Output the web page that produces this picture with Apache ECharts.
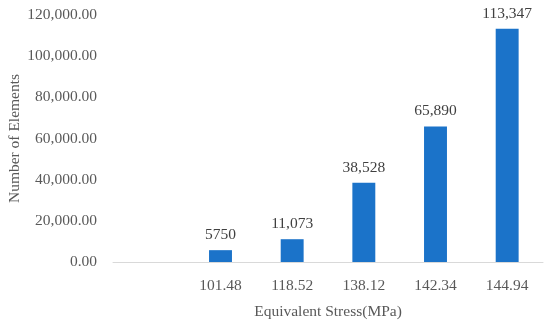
<!DOCTYPE html>
<html><head><meta charset="utf-8">
<script src="https://cdn.jsdelivr.net/npm/echarts@6/dist/echarts.min.js"></script>
<style>html,body{margin:0;padding:0;background:#fff}#c{width:550px;height:327px}</style>
</head><body><div id="c"></div>
<script>
var categories = ['', '101.48', '118.52', '138.12', '142.34', '144.94'];
var values = [null, 5750, 11073, 38528, 65890, 113347];
var valueLabels = ['', '5750', '11,073', '38,528', '65,890', '113,347'];
var yTicks = {min: 0, max: 120000, interval: 20000};
var xTitle = 'Equivalent Stress(MPa)';
var yTitle = 'Number of Elements';

var font = 'Liberation Serif';
var fs = 15.5;
var chart = echarts.init(document.getElementById('c'));
chart.setOption({
  animation: false,
  grid: {left: 113, right: 7, top: 15, bottom: 65, containLabel: false, outerBoundsMode: 'none'},
  xAxis: {
    type: 'category', data: categories,
    axisLine: {lineStyle: {color: '#d9d9d9', width: 1}},
    axisTick: {show: false},
    axisLabel: {color: '#595959', fontFamily: font, fontSize: fs, margin: 16},
    name: xTitle, nameLocation: 'middle', nameGap: 42, nameMoveOverlap: false,
    nameTextStyle: {color: '#595959', fontFamily: font, fontSize: fs}
  },
  yAxis: {
    type: 'value', min: yTicks.min, max: yTicks.max, interval: yTicks.interval,
    splitLine: {show: false},
    axisLine: {show: false}, axisTick: {show: false},
    axisLabel: {color: '#595959', fontFamily: font, fontSize: fs, margin: 16,
      formatter: function (v) { return v.toLocaleString('en-US', {minimumFractionDigits: 2, maximumFractionDigits: 2}); }},
    name: yTitle, nameLocation: 'middle', nameGap: 90, nameMoveOverlap: false,
    nameTextStyle: {color: '#595959', fontFamily: font, fontSize: fs}
  },
  series: [{
    type: 'bar', data: values, barWidth: '32%',
    itemStyle: {color: '#1b73c9'},
    label: {show: true, position: 'top', distance: 7, color: '#404040', fontFamily: font, fontSize: fs,
      formatter: function (p) { return valueLabels[p.dataIndex]; }}
  }]
});
</script></body></html>
